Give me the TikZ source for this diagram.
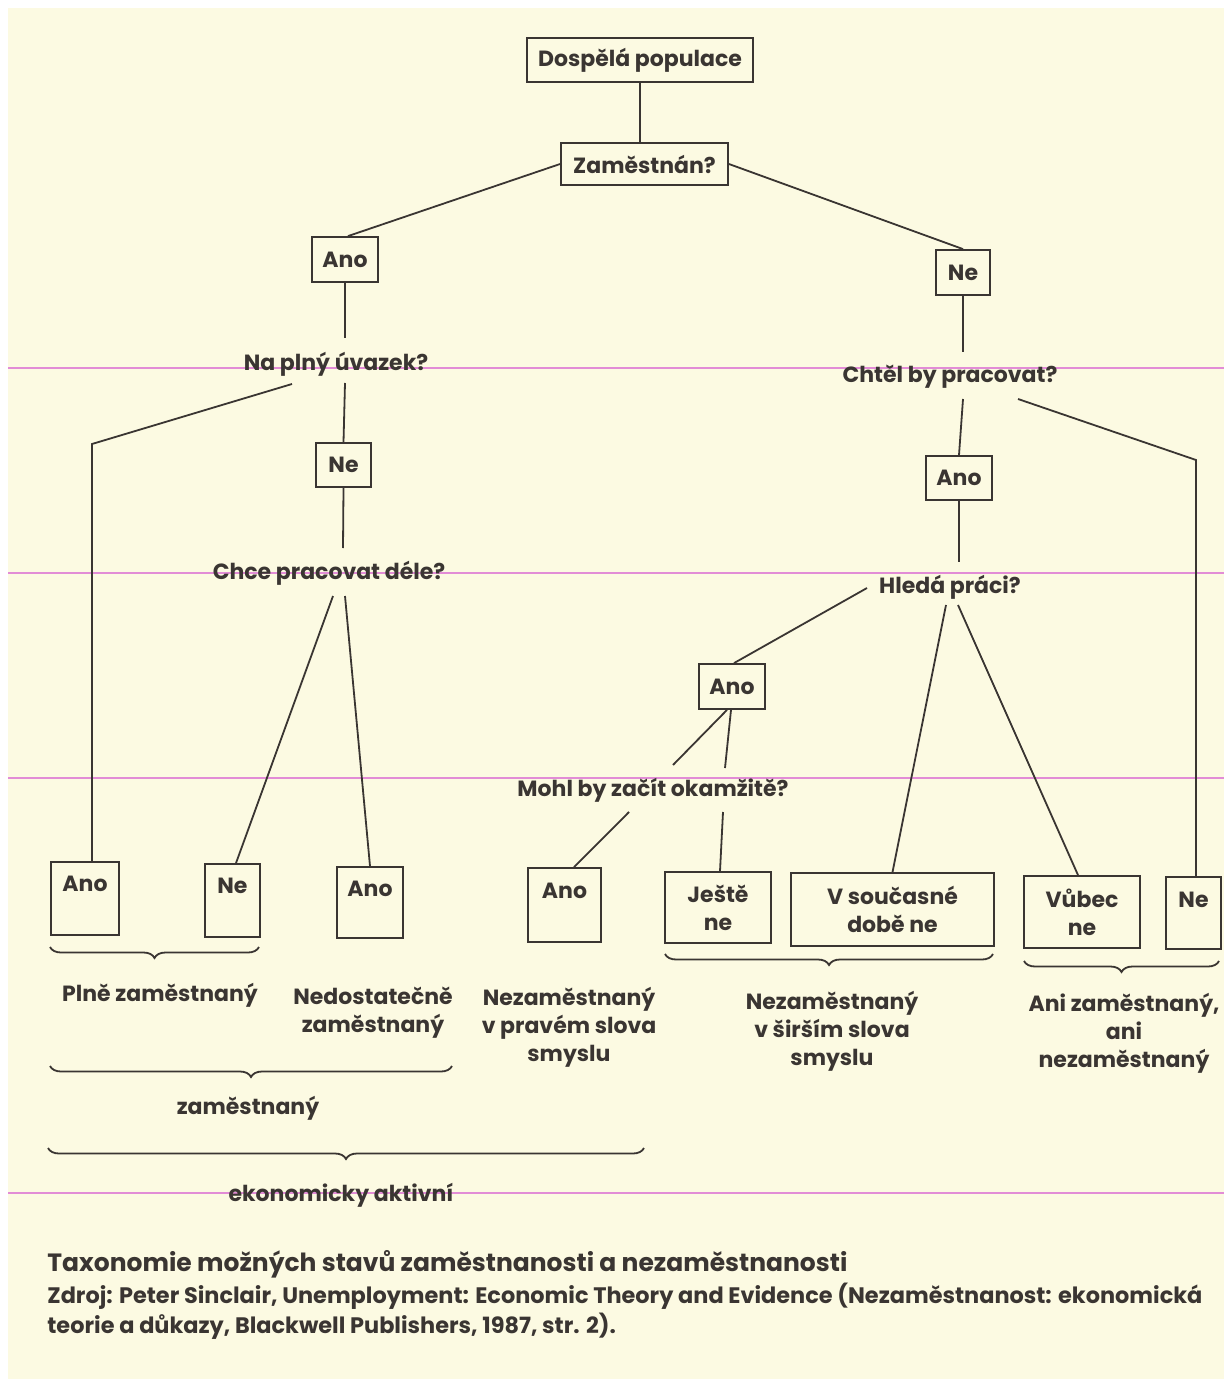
\documentclass[tikz,border=0pt]{standalone}
\usepackage{fontspec}
\setmainfont{Poppins}
\newfontfamily\nfont{Poppins}
\usetikzlibrary{decorations.pathreplacing,calc}
\definecolor{ink}{HTML}{3A3532}
\definecolor{paper}{HTML}{FCFAE2}
\definecolor{guide}{RGB}{226,140,214}
\tikzset{
  base/.style={inner sep=0pt, text=ink, align=center, font=\nfont\bfseries\fontsize{11}{14}\selectfont},
  bx/.style 2 args={base, draw=ink, line width=0.9pt, minimum width=#1*0.5pt, minimum height=#2*0.5pt},
  lbl/.style={base},
  conn/.style={draw=ink, line width=0.9pt},
  brc/.style={draw=ink, line width=0.9pt, decorate, decoration={brace, mirror, amplitude=5.5pt}},
  guideline/.style={draw=guide, line width=0.6pt},
  captxt/.style={anchor=west, inner sep=0pt, text=ink}
}
\begin{document}
\begin{tikzpicture}[x=0.5pt,y=-0.5pt]
\fill[white] (0,0) rectangle (1224,1379);
\fill[paper] (8,8) rectangle (1224,1379);
\useasboundingbox (0,0) rectangle (1224,1379);
% guide lines of the scan
\draw[guideline] (8,368) -- (1224,368);
\draw[guideline] (8,573) -- (1224,573);
\draw[guideline] (8,778) -- (1224,778);
\draw[guideline] (8,1193) -- (1224,1193);

% upper boxes
\node[bx={226}{44}] (root) at (640,60) {Dospělá populace};
\node[bx={167}{42}] (zam) at (644.5,164) {Zaměstnán?};
\node[bx={66}{45}] (ano1) at (345,259.5) {Ano};
\node[bx={54}{45}] (ne1) at (963,272.5) {Ne};
\node[lbl] (qfull) at (336,364) {Na plný úvazek?};
\node[bx={55}{44}] (ne2) at (343.5,465) {Ne};
\node[lbl] (qlonger) at (329,573) {Chce pracovat déle?};
\node[lbl] (qwant) at (950,377) {Chtěl by pracovat?};
\node[bx={66}{44}] (ano2) at (959,478) {Ano};
\node[lbl] (qseek) at (950,587) {Hledá práci?};
\node[bx={66}{45}] (ano3) at (732,686.5) {Ano};
\node[lbl] (qstart) at (653,790) {Mohl by začít okamžitě?};

% bottom boxes
\node[bx={68}{73}] (b1) at (85,898.5) {};
\node[lbl] (b1t) at ($(b1.north)+(0,23)$) {Ano};
\node[bx={55}{73}] (b2) at (232.5,900.5) {};
\node[lbl] (b2t) at ($(b2.north)+(0,23)$) {Ne};
\node[bx={66}{71}] (b3) at (370,902.5) {};
\node[lbl] (b3t) at ($(b3.north)+(0,23)$) {Ano};
\node[bx={73}{74}] (b4) at (564.5,905) {};
\node[lbl] (b4t) at ($(b4.north)+(0,24)$) {Ano};
\node[bx={106}{71}] (b5) at (718,907.5) {Ještě\\ne};
\node[bx={203}{73}] (b6) at (892.5,909.5) {V současné\\době ne};
\node[bx={116}{72}] (b7) at (1082,912) {Vůbec\\ne};
\node[bx={55}{72}] (b8) at (1193.5,913) {};
\node[lbl] (b8t) at ($(b8.north)+(0,24)$) {Ne};

% group labels
\node[lbl] (lfull) at (160,995) {Plně zaměstnaný};
\node[lbl] (lunder) at (373,1013) {Nedostatečně\\zaměstnaný};
\node[lbl] (lunemp) at (569,1027) {Nezaměstnaný\\v pravém slova\\smyslu};
\node[lbl] (lwide) at (832,1031) {Nezaměstnaný\\v širším slova\\smyslu};
\node[lbl] (lneither) at (1124,1033) {Ani zaměstnaný,\\ani\\nezaměstnaný};
\node[lbl] (lemp) at (248,1108) {zaměstnaný};
\node[lbl] (lact) at (341,1195) {ekonomicky aktivní};

% free ends of connectors near the question texts
\coordinate (qfullTop) at (345,338);
\coordinate (qfullBot) at (345,383);
\coordinate (qfullL) at (292,384);
\coordinate (kneeL) at (92,444);
\coordinate (qlongerTop) at (343,548);
\coordinate (qlongerA) at (333,596);
\coordinate (qlongerB) at (345,596);
\coordinate (qwantTop) at (963,352);
\coordinate (qwantBot) at (963,399);
\coordinate (qwantR) at (1018,399);
\coordinate (kneeR) at (1196,460);
\coordinate (qseekTop) at (959,562);
\coordinate (qseekL) at (867,588);
\coordinate (qseekA) at (946,605);
\coordinate (qseekB) at (958,605);
\coordinate (qstartL) at (673,765);
\coordinate (qstartTop) at (725,768);
\coordinate (qstartA) at (629,812);
\coordinate (qstartB) at (723,812);

% connectors
\draw[conn] (root.south) -- (root.south |- zam.north);
\draw[conn] (zam.west) -- ($(ano1.north)+(3,0)$);
\draw[conn] (zam.east) -- (ne1.north);
\draw[conn] (ano1.south) -- (qfullTop);
\draw[conn] (qfullBot) -- (ne2.north);
\draw[conn] (qfullL) -- (kneeL) -- (kneeL |- b1.north);
\draw[conn] (ne2.south) -- (qlongerTop);
\draw[conn] (qlongerA) -- ($(b2.north)+(3.5,0)$);
\draw[conn] (qlongerB) -- (b3.north);
\draw[conn] (ne1.south) -- (qwantTop);
\draw[conn] (qwantBot) -- (ano2.north);
\draw[conn] (qwantR) -- (kneeR) -- (kneeR |- b8.north);
\draw[conn] (ano2.south) -- (qseekTop);
\draw[conn] (qseekL) -- ($(ano3.north)+(2,0)$);
\draw[conn] (qseekA) -- (b6.north);
\draw[conn] (qseekB) -- ($(b7.north)+(-4,0)$);
\draw[conn] ($(ano3.south)+(-5,0)$) -- (qstartL);
\draw[conn] ($(ano3.south)+(-1,0)$) -- (qstartTop);
\draw[conn] (qstartA) -- ($(b4.north)+(9.5,0)$);
\draw[conn] (qstartB) -- ($(b5.north)+(2,0)$);

% braces
\coordinate (br1a) at (50,947);   \coordinate (br1b) at (259,947);
\coordinate (br2a) at (50,1066);  \coordinate (br2b) at (452,1066);
\coordinate (br3a) at (48,1148);  \coordinate (br3b) at (644,1148);
\coordinate (br4a) at (665,954);  \coordinate (br4b) at (993,954);
\coordinate (br5a) at (1024,961); \coordinate (br5b) at (1219,961);
\draw[brc] (br1a) -- (br1b);
\draw[brc] (br2a) -- (br2b);
\draw[brc] (br3a) -- (br3b);
\draw[brc] (br4a) -- (br4b);
\draw[brc] (br5a) -- (br5b);

% caption
\node[captxt, font=\nfont\bfseries\fontsize{12.5}{15}\selectfont] (cap1) at (47,1264) {Taxonomie možných stavů zaměstnanosti a nezaměstnanosti};
\node[captxt, font=\nfont\bfseries\fontsize{11.2}{13}\selectfont] (cap2) at (47,1296) {Zdroj: Peter Sinclair, Unemployment: Economic Theory and Evidence (Nezaměstnanost: ekonomická};
\node[captxt, font=\nfont\bfseries\fontsize{11.2}{13}\selectfont] (cap3) at (47,1326) {teorie a důkazy, Blackwell Publishers, 1987, str. 2).};
\end{tikzpicture}
\end{document}
